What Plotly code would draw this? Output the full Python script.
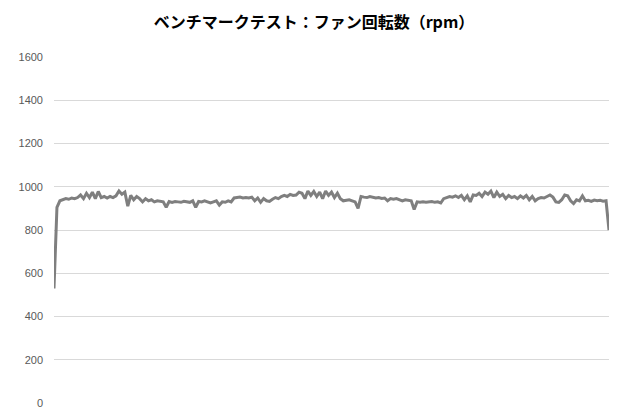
import plotly.graph_objects as go

title = "ベンチマークテスト：ファン回転数（rpm）"
y_ticks = [0, 200, 400, 600, 800, 1000, 1200, 1400, 1600]

# fan speed samples (rpm)
rpm = [
    530, 905, 935, 940, 945, 942, 948, 945, 950, 962,
    945, 970, 950, 975, 945, 978, 950, 955, 948, 955,
    950, 958, 980, 965, 975, 910, 960, 940, 955, 945,
    930, 945, 935, 940, 930, 935, 932, 930, 905, 932,
    928, 932, 930, 928, 933, 930, 928, 935, 905, 932,
    930, 935, 930, 925, 930, 935, 915, 930, 928, 935,
    930, 948, 950, 952, 948, 950, 948, 952, 935, 948,
    928, 945, 935, 932, 942, 950, 945, 955, 960, 955,
    965, 960, 962, 975, 970, 945, 980, 960, 978, 955,
    975, 945, 980, 960, 975, 950, 970, 945, 935, 938,
    940, 935, 930, 900, 955, 952, 950, 955, 952, 948,
    950, 946, 948, 935, 945, 942, 945, 940, 935, 940,
    938, 935, 895, 930, 928, 930, 928, 930, 932, 928,
    930, 925, 945, 950, 955, 952, 958, 950, 960, 940,
    958, 930, 962, 960, 970, 955, 975, 965, 980, 950,
    975, 955, 965, 945, 960, 950, 955, 945, 958, 948,
    960, 940, 955, 935, 945, 950, 948, 955, 962, 952,
    930, 928, 940, 962, 958, 935, 922, 940, 935, 958,
    935, 937, 932, 938, 935, 937, 933, 935, 800,
]
t = list(range(len(rpm)))

fig = go.Figure()
fig.add_trace(go.Scatter(x=t, y=rpm, mode="lines",
                         line=dict(color="#7f7f7f", width=3)))

# page body adds an 8px margin, so the figure is a bit smaller and shifted
fig.update_layout(
    width=612, height=412,
    margin=dict(l=36, r=11, t=49, b=13),
    paper_bgcolor="white", plot_bgcolor="white",
    showlegend=False,
    font=dict(family="Noto Sans CJK JP, sans-serif", color="#595959", size=11),
    title=dict(text="<b>" + title + "</b>", x=0.5, xanchor="center",
               y=0.965, yanchor="middle",
               font=dict(size=16, color="#000000",
                         family="Noto Sans CJK JP, sans-serif")),
)
fig.update_xaxes(range=[0, len(rpm) - 1], showgrid=False, showticklabels=False,
                 zeroline=False, showline=False)
fig.update_yaxes(range=[0, 1600], tickvals=y_ticks, showgrid=True,
                 gridcolor="#d9d9d9", gridwidth=1, zeroline=False,
                 showline=False, ticks="", ticklabelstandoff=10,
                 tickfont=dict(family="Liberation Sans, sans-serif", size=11,
                               color="#595959"))

fig.write_html("out.html")
